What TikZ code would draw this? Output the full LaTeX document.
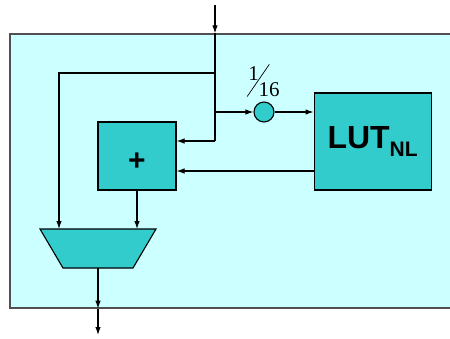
\documentclass[tikz,border=0pt]{standalone}
\usepackage{fontspec}
\setmainfont{Liberation Serif}
\newfontfamily\lutfont{Liberation Sans}
\usetikzlibrary{arrows.meta, positioning}

\definecolor{panelcyan}{HTML}{CCFFFF}
\definecolor{blockteal}{HTML}{33CCCC}
\definecolor{framegray}{HTML}{505050}

\begin{document}
\begin{tikzpicture}[
  x=1pt, y=-1pt,
  line width=1.1pt,
  arrow/.style={-{Latex[length=8pt, width=5.5pt]}},
  block/.style={
    draw,
    fill=blockteal,
    inner sep=0pt
  },
  node distance=10pt
]
\useasboundingbox (0,0) rectangle (450,338);

% =========================
% Panel
% =========================
\node[draw=framegray, fill=panelcyan, line width=1.3pt,
  minimum width=460pt, minimum height=274pt] (panel) at (240,171) {};

% =========================
% Blocks
% =========================
\node[block, minimum width=78pt, minimum height=68pt] (adder) at (137,156)
{\lutfont\bfseries\fontsize{30}{30}\selectfont\raisebox{-14.5pt}[0pt][0pt]{+}};

\node[block, minimum width=117pt, minimum height=97pt,
  right=137pt of adder, yshift=14.5pt] (lut)
{\lutfont\bfseries\fontsize{32}{32}\selectfont LUT\raisebox{-8pt}{\fontsize{21}{21}\selectfont NL}};

\node[block, circle, minimum size=20pt] (scaler) at (264,112) {};
\node[above=4pt of scaler, inner sep=0pt] (ratio)
{\fontsize{21}{21}\selectfont\raisebox{16pt}{1}\kern-12pt\rotatebox{55.5}{\rule{39pt}{0.7pt}}\kern-11pt 16};

% mux (trapezoid)
\draw[block] (40,229) -- (156,229) -- (133,268) -- (63,268) -- cycle;
\coordinate (muxtop) at (98,229);
\coordinate (muxbottom) at (98,268);

% =========================
% Connectors
% =========================
\coordinate (feed) at (215,5);
\coordinate (tapmux) at (215,73);
\coordinate (tapscale) at (215,112);
\coordinate (tapadd) at (215,141);
\coordinate (result) at (98,335);

\draw[arrow] (feed) -- (feed |- panel.north);
\draw (feed |- panel.north) -- (tapadd);
\draw[arrow] (tapadd) -- (tapadd -| adder.east);
\draw[arrow] (tapmux) -| ([xshift=-39pt]muxtop);
\draw[arrow] (tapscale) -- (scaler);
\draw[arrow] (scaler) -- (scaler -| lut.west);
\draw[arrow] ([yshift=-29.5pt]lut.west) -- ([yshift=-29.5pt]lut.west -| adder.east);
\draw[arrow] (adder.south) -- (adder.south |- muxtop);
\draw[arrow] (muxbottom) -- (muxbottom |- panel.south);
\draw[arrow] (muxbottom |- panel.south) -- (result);

\end{tikzpicture}
\end{document}
